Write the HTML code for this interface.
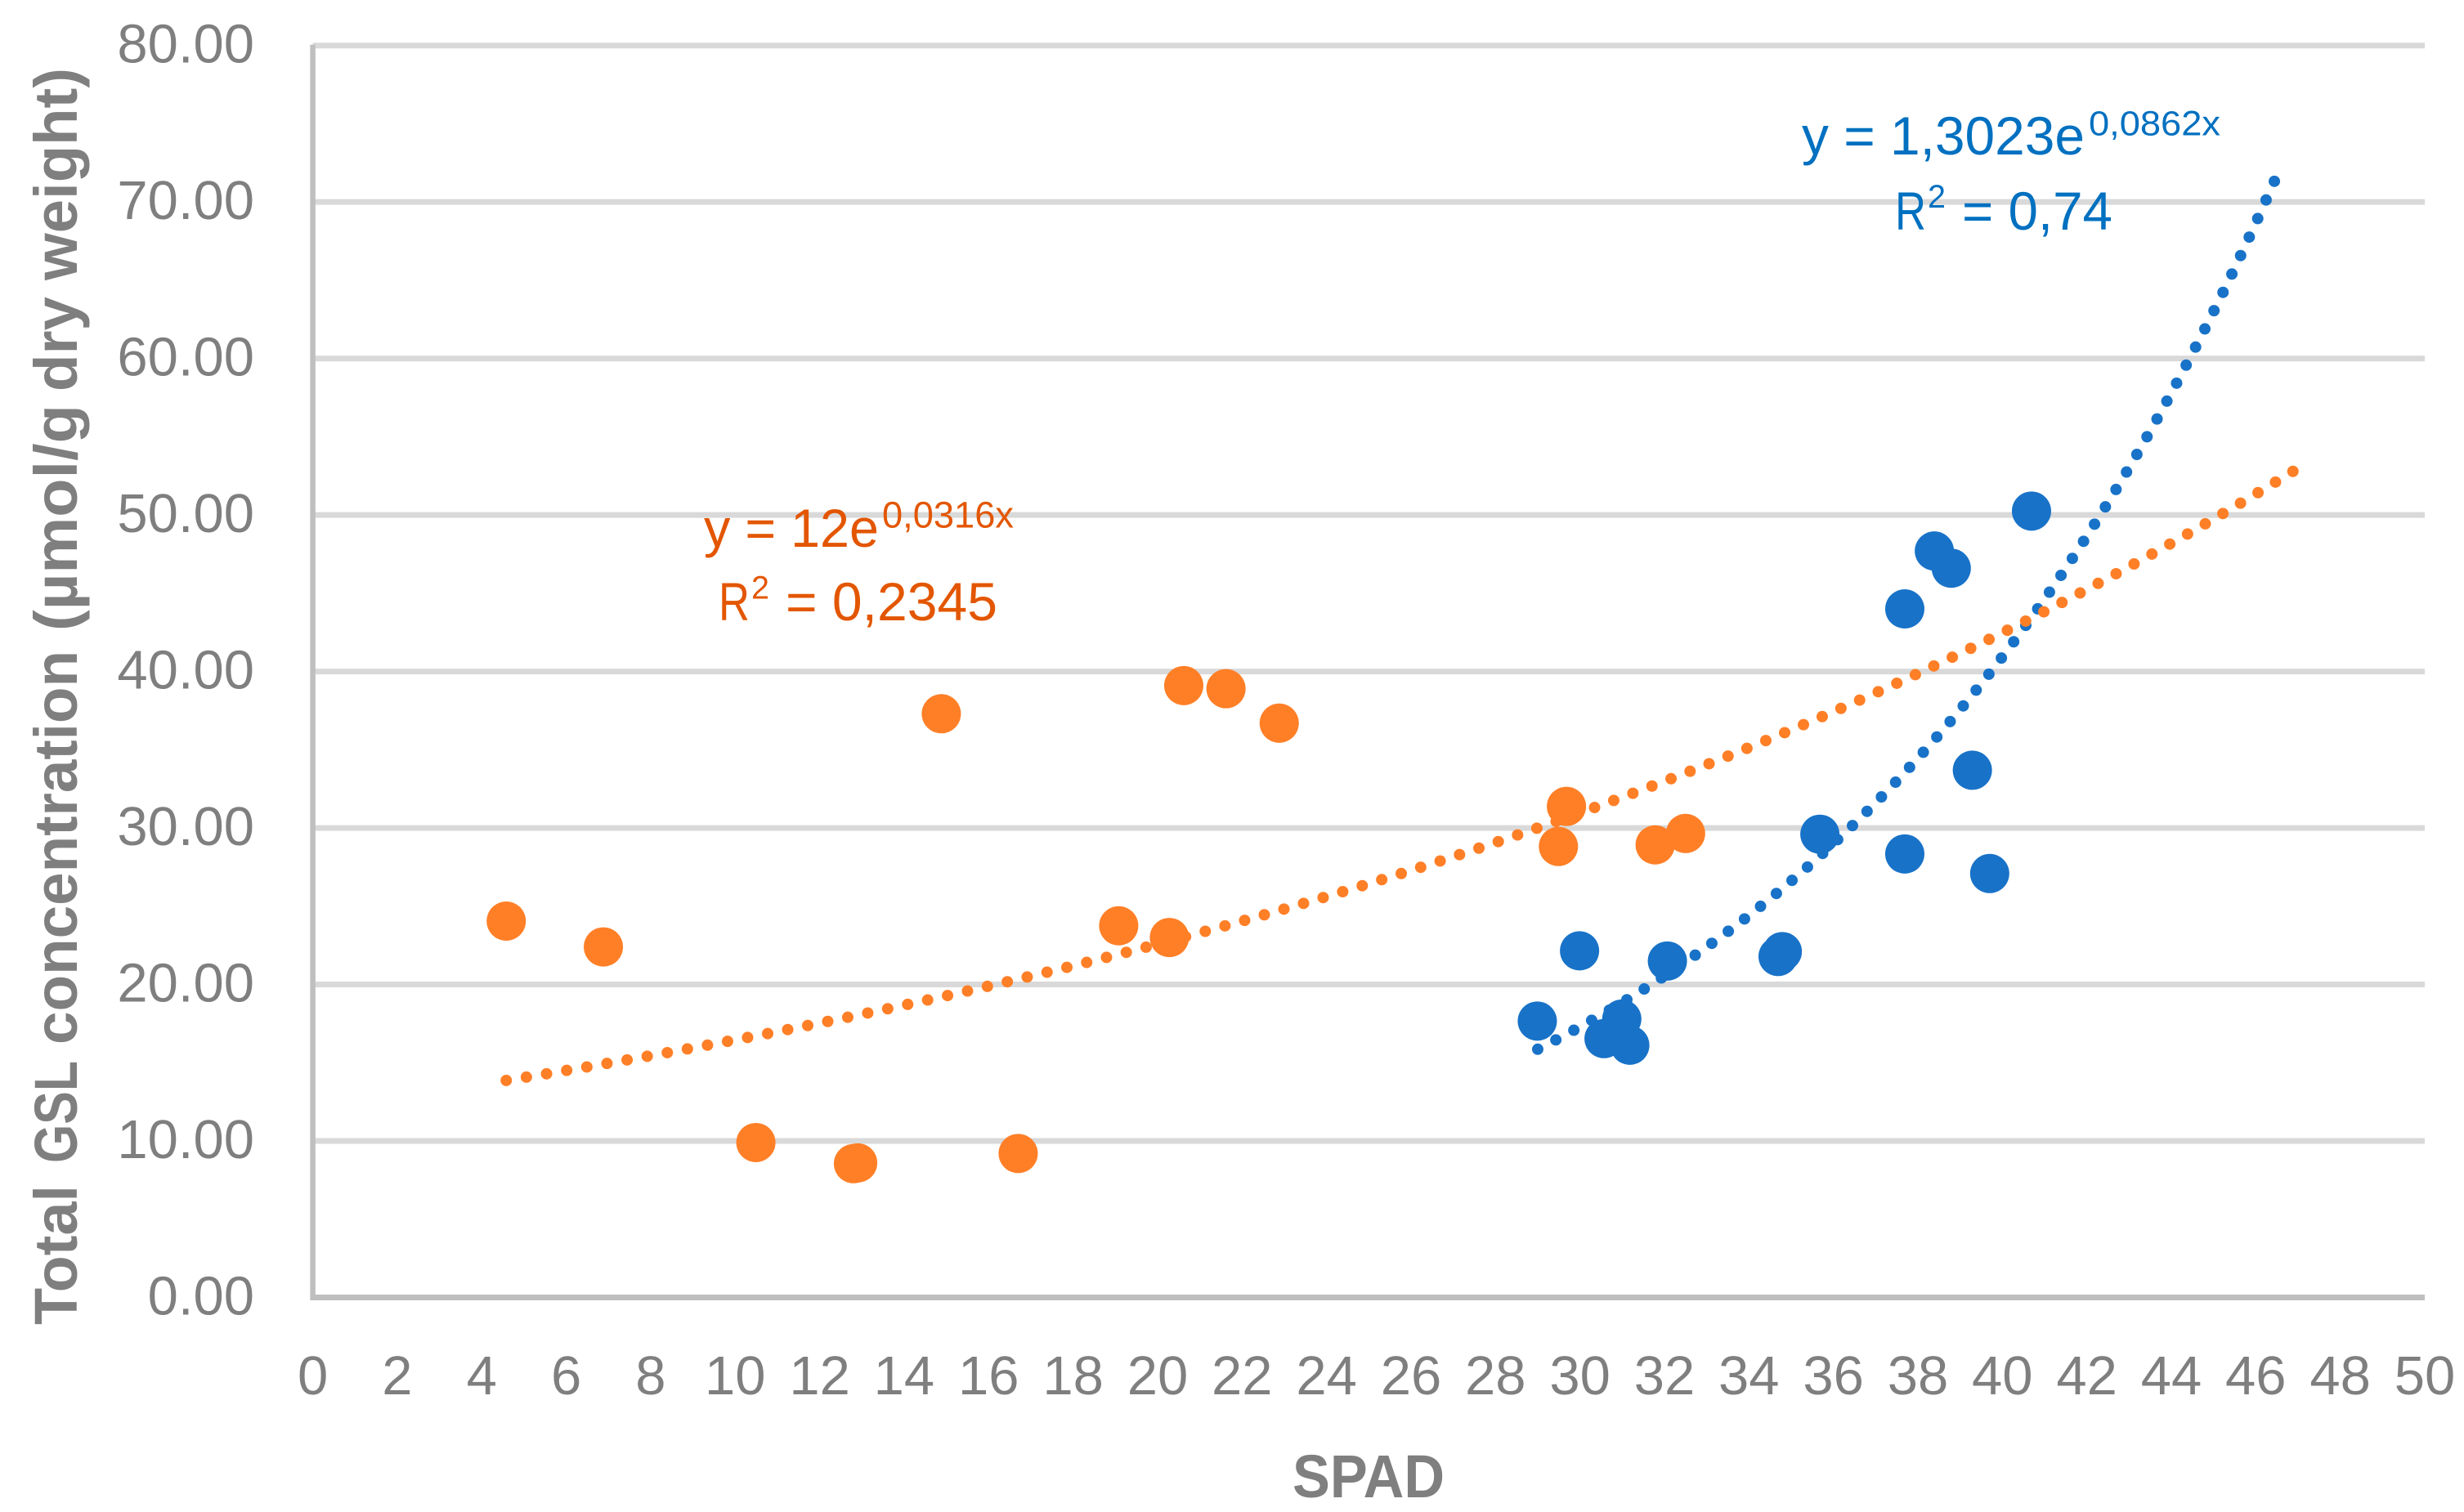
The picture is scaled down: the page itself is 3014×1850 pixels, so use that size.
<!DOCTYPE html>
<html lang="en">
<head>
<meta charset="utf-8">
<title>Total GSL concentration vs SPAD</title>
<style>
html,body{margin:0;padding:0;background:#fff;width:3014px;height:1850px;overflow:hidden}
svg{display:block}
text{font-family:"Liberation Sans",sans-serif}
</style>
</head>
<body>
<svg id="chart" xmlns="http://www.w3.org/2000/svg" width="3014" height="1850" viewBox="0 0 3014 1850">
  <rect width="3014" height="1850" fill="#fff"/>
  <g id="grid"></g>
  <g id="axes"></g>
  <g id="yticks"></g>
  <g id="xticks"></g>
  <g id="marks"></g>

  <g font-size="74" font-weight="700" fill="#7f7f7f">
    <text transform="translate(94,1621) rotate(-90)" textLength="171" lengthAdjust="spacingAndGlyphs">Total</text>
    <text transform="translate(94,1423) rotate(-90)" textLength="125" lengthAdjust="spacingAndGlyphs">GSL</text>
    <text transform="translate(94,1278) rotate(-90)" textLength="482" lengthAdjust="spacingAndGlyphs">concentration</text>
    <text transform="translate(94,772) rotate(-90)" textLength="277" lengthAdjust="spacingAndGlyphs">(µmol/g</text>
    <text transform="translate(94,479) rotate(-90)" textLength="116" lengthAdjust="spacingAndGlyphs">dry</text>
    <text transform="translate(94,343) rotate(-90)" textLength="260" lengthAdjust="spacingAndGlyphs">weight)</text>
  </g>
  <text x="1581" y="1832" font-size="74" font-weight="700" fill="#7f7f7f" textLength="186" lengthAdjust="spacingAndGlyphs">SPAD</text>

  <g fill="#0070c0">
    <text x="2204" y="189" font-size="66" textLength="346" lengthAdjust="spacingAndGlyphs">y = 1,3023e</text>
    <text x="2555" y="165.5" font-size="43" textLength="161" lengthAdjust="spacingAndGlyphs">0,0862x</text>
    <text x="2318" y="281" font-size="66" textLength="38" lengthAdjust="spacingAndGlyphs">R</text>
    <text x="2358" y="254" font-size="40" textLength="22" lengthAdjust="spacingAndGlyphs">2</text>
    <text x="2400" y="281" font-size="66" textLength="184" lengthAdjust="spacingAndGlyphs">= 0,74</text>
  </g>
  <g fill="#e35600">
    <text x="861" y="669" font-size="66" textLength="214" lengthAdjust="spacingAndGlyphs">y = 12e</text>
    <text x="1079" y="645.5" font-size="45" textLength="161" lengthAdjust="spacingAndGlyphs">0,0316x</text>
    <text x="879" y="759" font-size="66" textLength="38" lengthAdjust="spacingAndGlyphs">R</text>
    <text x="919" y="732.5" font-size="40" textLength="22" lengthAdjust="spacingAndGlyphs">2</text>
    <text x="961" y="759" font-size="66" textLength="259" lengthAdjust="spacingAndGlyphs">= 0,2345</text>
  </g>
</svg>
<script>
var xTicks = [0,2,4,6,8,10,12,14,16,18,20,22,24,26,28,30,32,34,36,38,40,42,44,46,48,50];
var yTicks = [0,10,20,30,40,50,60,70,80];
var yTickLabels = ['0.00','10.00','20.00','30.00','40.00','50.00','60.00','70.00','80.00'];

var orangeX = [4.58,6.88,10.49,12.80,12.90,14.88,16.70,19.08,20.28,20.62,21.62,22.88,29.49,29.68,31.78,32.50];
var orangeY = [24.05,22.40,9.90,8.55,8.60,37.30,9.20,23.75,23.00,39.10,38.90,36.70,28.82,31.38,28.92,29.65];

var blueX = [28.99,29.99,30.57,30.99,31.18,32.07,34.69,34.79,35.68,37.69,37.69,38.39,38.79,39.29,39.70,40.69];
var blueY = [17.66,22.15,16.54,17.79,16.12,21.50,21.79,22.10,29.60,28.34,44.00,47.70,46.60,33.69,27.09,50.25];

var blueFit = [1.3023,0.0862];
var blueFitRange = [29,46.44];
var orangeFit = [12,0.0316];
var orangeFitRange = [4.58,46.88];

var NS = 'http://www.w3.org/2000/svg';
var X0 = 382.6, X1 = 2966, Y0 = 1587.5, Y1 = 55.7;
function sx(v){ return X0 + (v - 0) / 50 * (X1 - X0); }
function sy(v){ return Y0 - (v - 0) / 80 * (Y0 - Y1); }

function make(tag, parent){
  var el = document.createElementNS(NS, tag);
  parent.appendChild(el);
  return el;
}
function setLine(el, x1, y1, x2, y2, color, width){
  el.setAttribute('x1', x1);
  el.setAttribute('y1', y1);
  el.setAttribute('x2', x2);
  el.setAttribute('y2', y2);
  el.setAttribute('stroke', color);
  el.setAttribute('stroke-width', width);
}

var gridG = document.getElementById('grid');
var axesG = document.getElementById('axes');
var yTickG = document.getElementById('yticks');
var xTickG = document.getElementById('xticks');
var marksG = document.getElementById('marks');

yTicks.forEach(function(t, i){
  if (t !== 0) {
    var g = make('line', gridG);
    
    
    setLine(g, X0, sy(t), X1, sy(t), '#d9d9d9', 7);
  }
  var lab = make('text', yTickG);
  
  
  lab.setAttribute('x', 311);
  lab.setAttribute('y', sy(t) + 21);
  lab.setAttribute('text-anchor', 'end');
  lab.setAttribute('font-size', 67);
  lab.setAttribute('fill', '#7f7f7f');
  lab.textContent = yTickLabels[i];
});

xTicks.forEach(function(t){
  var lab = make('text', xTickG);
  
  
  lab.setAttribute('x', sx(t));
  lab.setAttribute('y', 1706);
  lab.setAttribute('text-anchor', 'middle');
  lab.setAttribute('font-size', 67);
  lab.setAttribute('fill', '#7f7f7f');
  lab.textContent = String(t);
});

var yAxis = make('line', axesG);


setLine(yAxis, X0, Y1 - 1, X0, Y0 + 3.5, '#bfbfbf', 6.5);

var xAxis = make('line', axesG);


setLine(xAxis, X0 - 3, Y0, X1, Y0, '#bfbfbf', 7);

function trendPath(fit, range){
  var d = '';
  var steps = 300;
  for (var i = 0; i <= steps; i++) {
    var x = range[0] + (range[1] - range[0]) * i / steps;
    var y = fit[0] * Math.exp(fit[1] * x);
    d += (i ? 'L' : 'M') + sx(x).toFixed(2) + ' ' + sy(y).toFixed(2);
  }
  return d;
}
function styleTrend(el, fit, range, color){
  el.setAttribute('d', trendPath(fit, range));
  el.setAttribute('fill', 'none');
  el.setAttribute('stroke', color);
  el.setAttribute('stroke-width', 14);
  el.setAttribute('stroke-linecap', 'round');
  var len = el.getTotalLength();
  var gap = len / Math.round(len / 25.1) - 0.001;
  el.setAttribute('stroke-dasharray', '0 ' + gap);
}
function styleDot(el, xv, yv, color){
  el.setAttribute('cx', sx(xv));
  el.setAttribute('cy', sy(yv));
  el.setAttribute('r', 24);
  el.setAttribute('fill', color);
}

var BLUE = '#1872c8', ORANGE = '#ff7f27';

var blueTrend = make('path', marksG);


styleTrend(blueTrend, blueFit, blueFitRange, BLUE);

blueX.forEach(function(v, i){
  var c = make('circle', marksG);
  
  
  styleDot(c, v, blueY[i], BLUE);
});

var orangeTrend = make('path', marksG);


styleTrend(orangeTrend, orangeFit, orangeFitRange, ORANGE);

orangeX.forEach(function(v, i){
  var c = make('circle', marksG);
  
  
  styleDot(c, v, orangeY[i], ORANGE);
});
</script>
</body>
</html>
